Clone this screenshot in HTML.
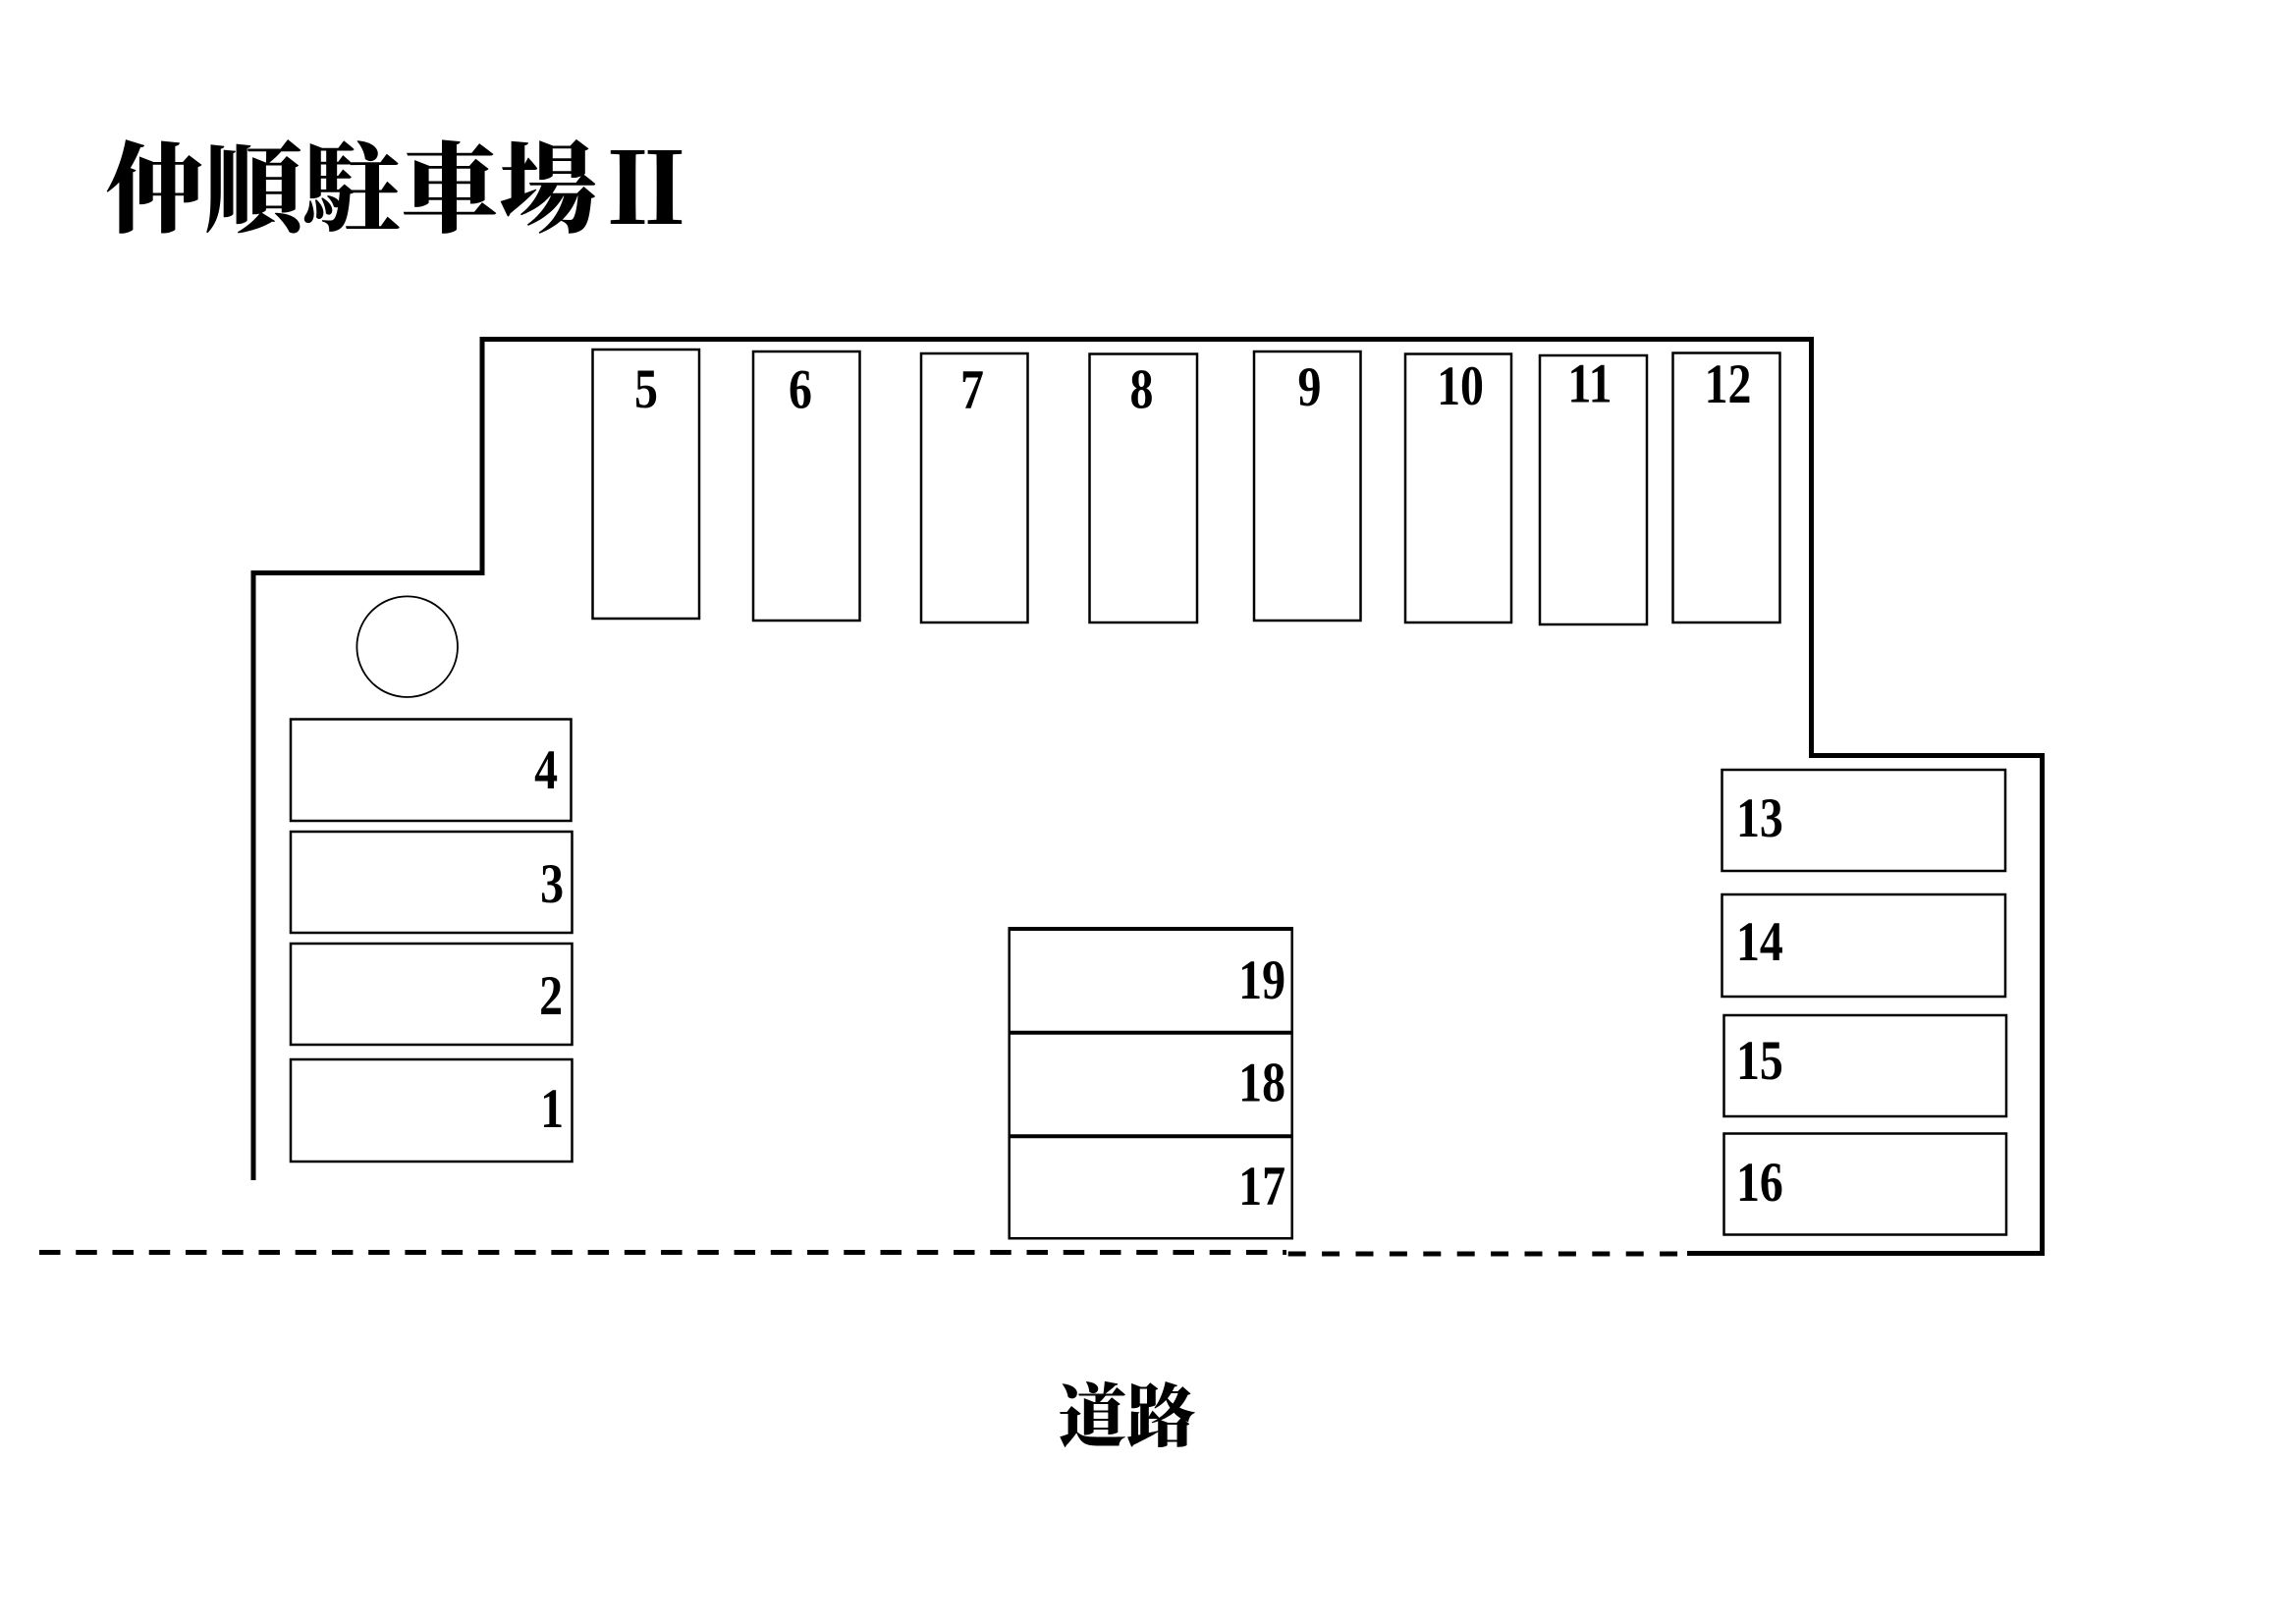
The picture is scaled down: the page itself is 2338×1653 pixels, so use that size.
<!DOCTYPE html>
<html>
<head>
<meta charset="utf-8">
<style>
html,body{margin:0;padding:0;background:#fff;}
svg{display:block;}
.w{fill:none;stroke:#000;stroke-width:5;stroke-linejoin:miter;stroke-linecap:butt;}
.s{fill:none;stroke:#000;stroke-width:2.5;}
.n{font-family:"Liberation Serif","Noto Serif CJK SC",serif;font-weight:bold;font-size:57px;fill:#000;}
.t{font-family:"Noto Serif CJK JP","Noto Serif CJK SC","Liberation Serif",serif;font-weight:900;fill:#000;}
</style>
</head>
<body>
<svg width="2338" height="1653" viewBox="0 0 2338 1653" xmlns="http://www.w3.org/2000/svg">
<rect width="2338" height="1653" fill="#fff"/>

<!-- Title -->
<text class="t" x="108" y="228" font-size="100">仲順駐車場Ⅱ</text>

<!-- Walls -->
<polyline class="w" points="258,1202 258,583.5 491,583.5 491,345.5 1844.5,345.5 1844.5,769.5 2079.5,769.5 2079.5,1276.5 1718,1276.5"/>

<!-- Road dashed line -->
<line x1="40" y1="1275.5" x2="1310" y2="1275.5" stroke="#000" stroke-width="5" stroke-dasharray="21.5 15.74"/>
<line x1="1311.7" y1="1277" x2="1720" y2="1277" stroke="#000" stroke-width="5" stroke-dasharray="18 16.4"/>

<!-- Circle -->
<circle cx="414.7" cy="658.7" r="51.3" fill="none" stroke="#000" stroke-width="1.8"/>

<!-- Top row stalls -->
<rect class="s" x="603.5" y="356" width="108.5" height="274"/>
<rect class="s" x="767" y="358" width="108.5" height="274"/>
<rect class="s" x="938" y="360" width="108.5" height="274"/>
<rect class="s" x="1109.5" y="360.5" width="109.5" height="273.5"/>
<rect class="s" x="1277" y="358" width="108.5" height="274"/>
<rect class="s" x="1431" y="360.5" width="108" height="273.5"/>
<rect class="s" x="1568" y="362" width="109" height="274"/>
<rect class="s" x="1703.5" y="359.5" width="109" height="274.5"/>

<g class="n" text-anchor="middle">
<text transform="translate(658,415) scale(0.84,1)">5</text>
<text transform="translate(815,415.5) scale(0.84,1)">6</text>
<text transform="translate(990,416) scale(0.84,1)">7</text>
<text transform="translate(1162.5,415.5) scale(0.84,1)">8</text>
<text transform="translate(1333.5,413) scale(0.84,1)">9</text>
<text transform="translate(1487,412) scale(0.84,1)">10</text>
<text transform="translate(1619,409.5) scale(0.84,1)">11</text>
<text transform="translate(1759.5,410) scale(0.84,1)">12</text>
</g>

<!-- Left stalls -->
<rect class="s" x="296" y="732.5" width="285.5" height="103.5"/>
<rect class="s" x="296" y="847" width="286.5" height="103"/>
<rect class="s" x="296" y="961" width="286.5" height="103"/>
<rect class="s" x="296" y="1079" width="286.5" height="104"/>

<g class="n" text-anchor="end">
<text transform="translate(568,803) scale(0.84,1)">4</text>
<text transform="translate(574,919) scale(0.84,1)">3</text>
<text transform="translate(573,1033) scale(0.84,1)">2</text>
<text transform="translate(574,1148) scale(0.84,1)">1</text>
</g>

<!-- Middle stack -->
<line x1="1027.7" y1="946" x2="1027.7" y2="1261.3" stroke="#000" stroke-width="2.5"/>
<line x1="1315.7" y1="946" x2="1315.7" y2="1261.3" stroke="#000" stroke-width="2.5"/>
<line x1="1026.5" y1="946" x2="1317" y2="946" stroke="#000" stroke-width="4"/>
<line x1="1026.5" y1="1051.7" x2="1317" y2="1051.7" stroke="#000" stroke-width="4"/>
<line x1="1026.5" y1="1157.3" x2="1317" y2="1157.3" stroke="#000" stroke-width="4"/>
<line x1="1026.5" y1="1261.3" x2="1317" y2="1261.3" stroke="#000" stroke-width="2.5"/>

<g class="n" text-anchor="end">
<text transform="translate(1309,1017) scale(0.84,1)">19</text>
<text transform="translate(1309,1121.5) scale(0.84,1)">18</text>
<text transform="translate(1309,1227) scale(0.84,1)">17</text>
</g>

<!-- Right stalls -->
<rect class="s" x="1753.5" y="784" width="288.5" height="103"/>
<rect class="s" x="1753.5" y="911" width="288.5" height="104"/>
<rect class="s" x="1755.5" y="1034" width="287.5" height="103"/>
<rect class="s" x="1755.5" y="1154.5" width="287.5" height="103"/>

<g class="n">
<text transform="translate(1768,852) scale(0.84,1)">13</text>
<text transform="translate(1768,978) scale(0.84,1)">14</text>
<text transform="translate(1768,1099) scale(0.84,1)">15</text>
<text transform="translate(1768,1223) scale(0.84,1)">16</text>
</g>

<!-- Road label -->
<text class="t" x="1147.5" y="1467" font-size="70" text-anchor="middle">道路</text>
</svg>
</body>
</html>
